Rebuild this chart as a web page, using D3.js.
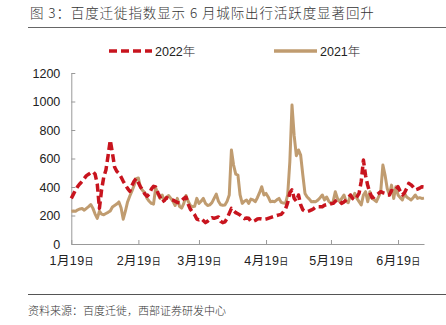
<!DOCTYPE html>
<html>
<head>
<meta charset="utf-8">
<script src="https://cdn.jsdelivr.net/npm/d3@7"></script>
<style>
  html, body { margin: 0; padding: 0; background: #fff; }
  svg { display: block; }
</style>
</head>
<body>
<svg id="chart" width="446" height="325"></svg>
<script>
// Baidu migration index, daily from 19 Jan, 2022 vs 2021
const startDate = new Date(2022, 0, 19);
const endDate = new Date(2022, 6, 1);

const series2022 = [
  320, 350, 380, 405, 423, 440, 460, 480, 490, 500,
  507, 490, 420, 250, 380, 470, 520, 620, 728, 640,
  540, 510, 495, 470, 440, 415, 390, 370, 410, 440,
  460, 430, 400, 380, 350, 335, 350, 385, 405, 400,
  360, 330, 295, 305, 325, 320, 312, 308, 300, 292,
  290, 305, 320, 330, 280, 245, 225, 205, 175, 170,
  178, 165, 150, 160, 175, 185, 180, 185, 190, 160,
  150, 155, 180, 215, 250, 235, 220, 212, 204, 190,
  178, 182, 180, 160, 158, 165, 175, 178, 175, 172,
  175, 180, 185, 190, 195, 200, 204, 208, 225, 245,
  290, 360, 380, 320, 300, 344, 275, 240, 230, 227,
  232, 239, 248, 260, 262, 262, 262, 272, 276, 278,
  282, 285, 300, 309, 300, 285, 295, 309, 325, 344,
  320, 309, 330, 356, 440, 589, 480, 410, 360, 325,
  330, 344, 355, 367, 360, 356, 345, 344, 375, 370,
  385, 402, 370, 344, 360, 390, 426, 415, 400, 380,
  385, 392, 402, 400
];

const series2021 = [
  230, 232, 230, 240, 246, 249, 237, 250, 262, 277,
  250, 210, 180, 230, 210, 205, 214, 222, 232, 260,
  270, 280, 295, 255, 174, 230, 295, 335, 370, 410,
  458, 463, 395, 375, 360, 320, 300, 285, 280, 395,
  350, 320, 344, 305, 330, 340, 320, 300, 270, 320,
  265, 252, 285, 340, 300, 270, 262, 265, 320, 285,
  300, 320, 285, 270, 275, 290, 320, 350, 300, 275,
  272, 274, 300, 344, 660, 554, 490, 484, 344, 285,
  300, 309, 285, 315, 310, 297, 325, 360, 402, 344,
  355, 330, 297, 300, 297, 310, 320, 292, 288, 285,
  344, 578, 975, 760, 620, 660, 624, 484, 355, 330,
  315, 297, 298, 297, 309, 325, 344, 310, 330, 300,
  285, 297, 367, 320, 297, 320, 344, 300, 290, 344,
  320, 355, 320, 297, 274, 344, 367, 297, 367, 320,
  310, 297, 330, 367, 554, 484, 390, 344, 413, 320,
  402, 344, 325, 309, 355, 330, 320, 309, 325, 344,
  320, 325, 320, 322
];

const seriesNames = ["2022", "2021"];
const seriesColors = ["#C8141E", "#C09C70"];
const yTicks = [0, 200, 400, 600, 800, 1000, 1200];
const tickDates = [
  new Date(2022, 0, 19), new Date(2022, 1, 19), new Date(2022, 2, 19),
  new Date(2022, 3, 19), new Date(2022, 4, 19), new Date(2022, 5, 19)
];
const tickLabels = ["1月19", "2月19", "3月19", "4月19", "5月19", "6月19"];

const svg = d3.select("#chart");
const cjk = "'Noto Sans CJK SC', sans-serif";
const latin = "'Liberation Sans', Arial, 'Noto Sans CJK SC', sans-serif";

const x = d3.scaleTime().domain([startDate, endDate]).range([71.3, 424]);
const y = d3.scaleLinear().domain([0, 1200]).range([244, 73]);

const dayDate = i => d3.timeDay.offset(startDate, i);

// Title and rules
svg.append("text")
  .attr("x", 30).attr("y", 18)
  .attr("font-family", cjk).attr("font-size", 13.5).attr("font-weight", 300)
  .attr("letter-spacing", 0.9)
  .attr("fill", "#333")
  .text("图 3：百度迁徙指数显示 6 月城际出行活跃度显著回升");

svg.append("line")
  .attr("x1", 28).attr("x2", 446).attr("y1", 27.5).attr("y2", 27.5)
  .attr("stroke", "#666").attr("stroke-width", 1);

svg.append("line")
  .attr("x1", 28).attr("x2", 446).attr("y1", 294.5).attr("y2", 294.5)
  .attr("stroke", "#555").attr("stroke-width", 1);

svg.append("text")
  .attr("x", 28).attr("y", 314.5)
  .attr("font-family", cjk).attr("font-size", 11).attr("font-weight", 300)
  .attr("fill", "#333")
  .text("资料来源：百度迁徙，西部证券研发中心");

// Legend
const legendX = [109, 274];
const legend = svg.append("g");
seriesNames.forEach((name, i) => {
  legend.append("line")
    .attr("x1", legendX[i]).attr("x2", legendX[i] + 43).attr("y1", 51).attr("y2", 51)
    .attr("stroke", seriesColors[i]).attr("stroke-width", 3.5)
    .attr("stroke-dasharray", i === 0 ? "8,4" : null);
  const t = legend.append("text")
    .attr("x", legendX[i] + 46).attr("y", 55.5)
    .attr("font-family", latin).attr("font-size", 12.5).attr("fill", "#222");
  t.append("tspan").text(name);
  t.append("tspan").attr("font-family", cjk).attr("font-weight", 300).text("年");
});

// Axes
const yAxis = d3.axisLeft(y).tickValues(yTicks).tickFormat(d3.format("d"))
  .tickSize(0).tickPadding(11);
const gy = svg.append("g").attr("transform", "translate(71.3,0)").call(yAxis);
gy.select(".domain").attr("stroke", "#999");
gy.selectAll("text").attr("font-family", latin).attr("font-size", 12.5).attr("fill", "#222");
gy.selectAll(".tick").append("line")
  .attr("x1", 0).attr("x2", 4).attr("stroke", "#999");

const xAxis = d3.axisBottom(x).tickValues(tickDates)
  .tickFormat(() => "").tickSize(0).tickPadding(12);
const gx = svg.append("g").attr("transform", "translate(0,244)").call(xAxis);
gx.select(".domain").attr("stroke", "#999");
gx.selectAll(".tick").append("line")
  .attr("y1", 0).attr("y2", -4).attr("stroke", "#999");
gx.selectAll(".tick text").each(function(d, i) {
  const t = d3.select(this)
    .attr("font-family", latin).attr("font-size", 12.5).attr("fill", "#222")
    .attr("letter-spacing", 0.4);
  t.append("tspan").text(tickLabels[i]);
  t.append("tspan").attr("font-family", cjk).attr("font-size", 9).text("日");
});

// Lines
const line = d3.line()
  .x((d, i) => x(dayDate(i)))
  .y(d => y(d));

svg.append("path")
  .datum(series2021)
  .attr("fill", "none")
  .attr("stroke", seriesColors[1])
  .attr("stroke-width", 3)
  .attr("stroke-linejoin", "round")
  .attr("d", line);

svg.append("path")
  .datum(series2022)
  .attr("fill", "none")
  .attr("stroke", seriesColors[0])
  .attr("stroke-width", 3.5)
  .attr("stroke-dasharray", "8,4")
  .attr("stroke-linejoin", "round")
  .attr("d", line);
</script>
</body>
</html>
